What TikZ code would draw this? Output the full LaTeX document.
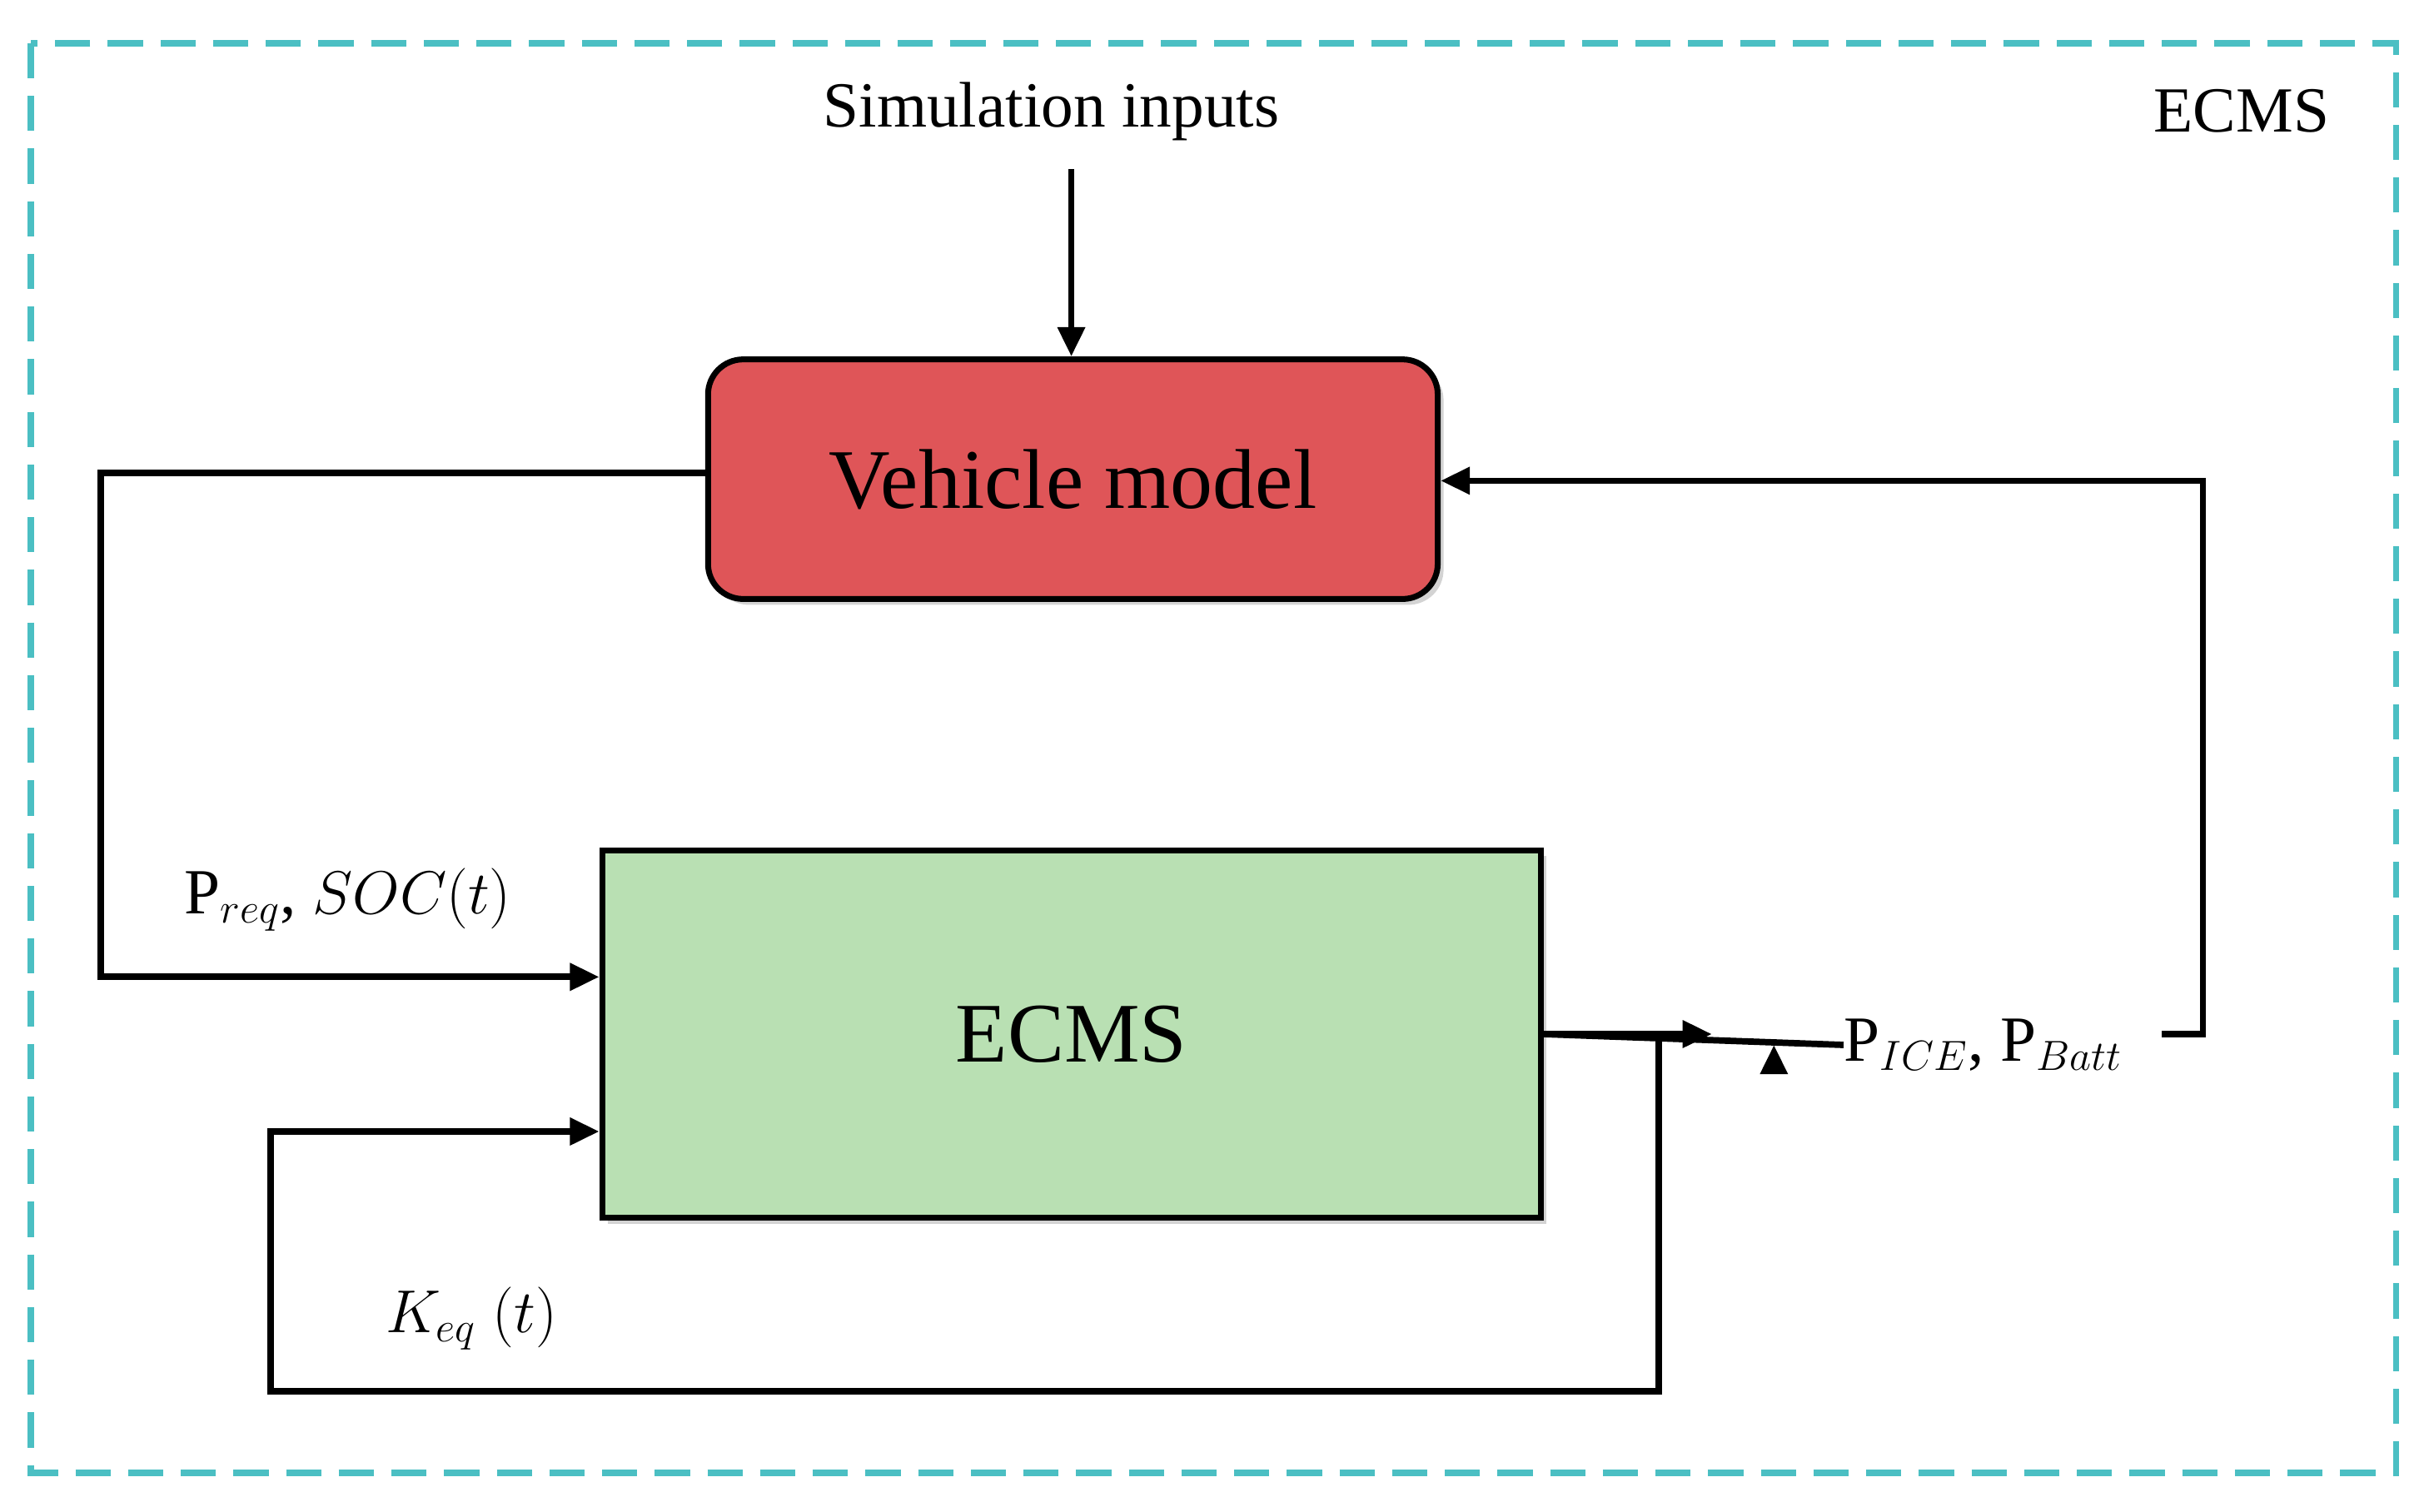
\documentclass[tikz,border=0pt]{standalone}
\usepackage{fontspec}
\setmainfont{Liberation Serif}
\usetikzlibrary{arrows.meta,shadows}
\definecolor{vred}{HTML}{DF5558}
\definecolor{egreen}{HTML}{B9E0B3}
\definecolor{frame}{HTML}{4BBFC3}
\begin{document}
\begin{tikzpicture}[x=0.01857cm,y=-0.01857cm,
  blk/.style={draw,line width=2pt,drop shadow={opacity=0.35,shadow xshift=2pt,shadow yshift=-2pt}},
  wire/.style={line width=2.2pt},
  arr/.style={wire,-{Triangle[length=10pt,width=9pt]}},
  lbl/.style={font=\fontsize{22}{26}\selectfont}]
\useasboundingbox (0,0) rectangle (1568,978);
\draw[frame,line width=2.2pt,dash pattern=on 12pt off 6pt] (20,28) rectangle (1550,953);
\node (ttl) [lbl] at (1450,72) {ECMS};
\node (sim) [lbl] at (680,72) {Simulation inputs};
\node (veh) [blk,fill=vred,rounded corners=12pt,minimum width=472*0.01857cm,minimum height=155*0.01857cm,font=\fontsize{29}{34}\selectfont] at (694,310) {Vehicle model};
\node (ecms) [blk,fill=egreen,minimum width=607*0.01857cm,minimum height=238*0.01857cm,font=\fontsize{29}{34}\selectfont] at (693,669) {ECMS};
\node (pin) [lbl] at (225,582) {P$_{req}$, $SOC(t)$};
\node (pout) [lbl,inner sep=0pt] at (1283,676) {P$_{ICE}$, P$_{Batt}$};
\node (keq) [lbl] at (305,853) {$K_{eq}\ (t)$};
\coordinate (tap) at (1073,669);
% connectors
\draw[arr] (sim.south) ++(13,12) -- (veh.north -| 693,0);
\draw[arr] (veh.west |- 0,306) -- (65,306) -- (65,632) -- (ecms.west |- 0,632);
\draw[arr] (ecms.east) -- (pout.west) ++(-45,0);
\draw[arr] (ecms.east) -- ([xshift=-45]pout.west |- ecms.east);
\draw[arr] (pout.east |- ecms.east) ++(25,0) -- (1425,669) -- (1425,311) -- (veh.east |- 0,311);
\draw[arr] (tap) -- (1073,900) -- (175,900) -- (175,732) -- (ecms.west |- 0,732);
\end{tikzpicture}
\end{document}
